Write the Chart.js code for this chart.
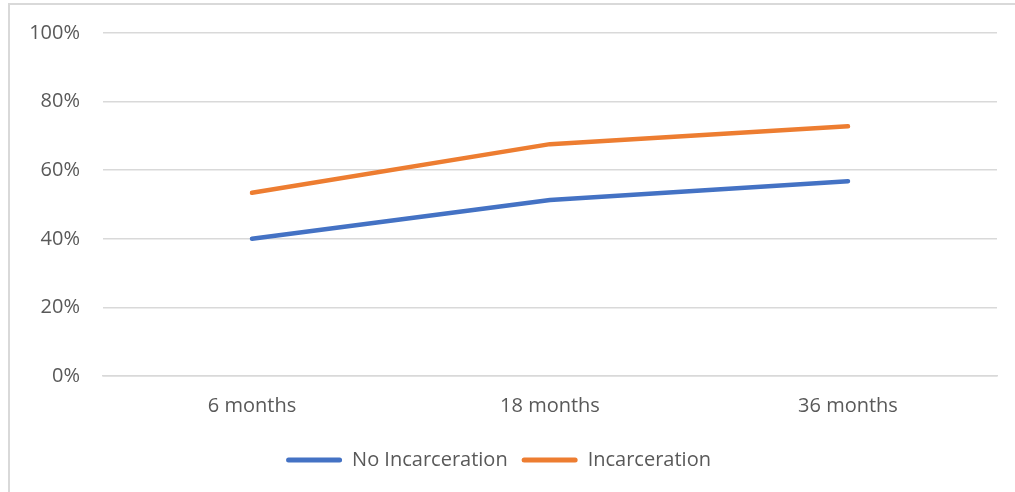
<!DOCTYPE html>
<html>
<head>
<meta charset="utf-8">
<script src="https://cdn.jsdelivr.net/npm/chart.js@4/dist/chart.umd.min.js"></script>
<style>
  html, body { margin: 0; padding: 0; background: #fff; overflow: hidden; }
  #frame { position: absolute; left: 8px; top: 3px; width: 1100px; height: 600px; border: 2px solid #d9d9d9; box-sizing: border-box; }
  #wrap { position: absolute; left: 0; top: 0; width: 1015px; height: 492px; }
</style>
</head>
<body>
<div id="frame"></div>
<div id="wrap"><canvas id="c"></canvas></div>
<script>
const categories = ["6 months", "18 months", "36 months"];
const noIncarceration = [40.0, 51.3, 56.8];
const incarceration = [53.4, 67.6, 72.8];
const yTicks = [0, 20, 40, 60, 80, 100];

const textColor = '#595959';
const gridColor = '#d9d9d9';
const fontFamily = '"Open Sans", Lato, sans-serif';
const fontSize = 20;

new Chart(document.getElementById('c'), {
  type: 'line',
  data: {
    labels: categories,
    datasets: [
      { label: 'No Incarceration', data: noIncarceration, borderColor: '#4472C4', backgroundColor: '#4472C4', borderWidth: 4.5, pointRadius: 0, tension: 0, borderCapStyle: 'round', borderJoinStyle: 'round' },
      { label: 'Incarceration', data: incarceration, borderColor: '#ED7D31', backgroundColor: '#ED7D31', borderWidth: 4.5, pointRadius: 0, tension: 0, borderCapStyle: 'round', borderJoinStyle: 'round' }
    ]
  },
  options: {
    responsive: true,
    maintainAspectRatio: false,
    animation: false,
    layout: { padding: { left: 0, right: 18, top: 33, bottom: 12 } },
    plugins: {
      tooltip: { enabled: false },
      legend: {
        position: 'bottom',
        labels: {
          color: textColor,
          font: { family: fontFamily, size: fontSize },
          boxWidth: 56,
          boxHeight: 5,
          padding: 14,
          useBorderRadius: true,
          borderRadius: 2.5,
          generateLabels: (chart) => chart.data.datasets.map((ds, i) => ({
            text: ds.label, fillStyle: ds.borderColor, strokeStyle: ds.borderColor, lineWidth: 0,
            fontColor: textColor, datasetIndex: i, hidden: false, borderRadius: 2.5
          }))
        }
      }
    },
    scales: {
      x: {
        offset: true,
        grid: { display: false, drawTicks: false },
        border: { display: true, color: gridColor, width: 1.5 },
        ticks: { color: textColor, font: { family: fontFamily, size: fontSize }, padding: 18 }
      },
      y: {
        min: 0, max: 100,
        afterBuildTicks: (s) => { s.ticks = yTicks.map(v => ({ value: v })); },
        afterFit: (s) => { s.width = 103; s.paddingTop = 0; s.paddingBottom = 0; },
        grid: { color: gridColor, lineWidth: 1.5, drawTicks: false },
        border: { display: false },
        ticks: { color: textColor, font: { family: fontFamily, size: fontSize }, padding: 23, callback: (v) => v + '%' }
      }
    }
  }
});
</script>
</body>
</html>
